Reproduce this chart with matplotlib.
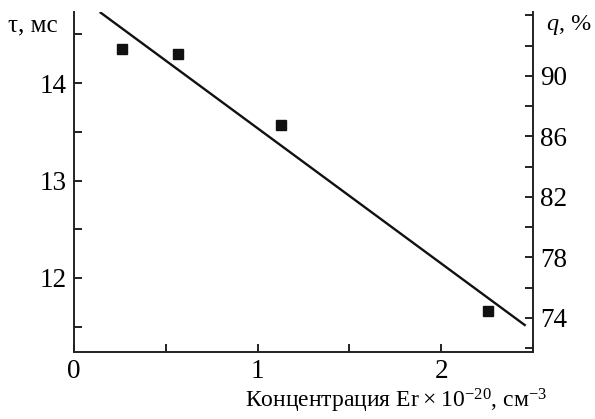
import matplotlib.pyplot as plt
from matplotlib.ticker import MultipleLocator

plt.rcParams['font.family'] = ['Liberation Serif', 'DejaVu Serif']
plt.rcParams['mathtext.fontset'] = 'custom'
plt.rcParams['mathtext.rm'] = 'Liberation Serif'
plt.rcParams['mathtext.it'] = 'Liberation Serif:italic'

# измеренные точки
conc = [0.26, 0.565, 1.125, 2.255]
tau = [14.35, 14.30, 13.57, 11.66]

# линейная аппроксимация (концы прямой)
fit_x = [0.14, 2.46]
fit_tau = [14.73, 11.51]

q_ticks = [74, 78, 82, 86, 90]

fig = plt.figure(figsize=(5.95, 4.19), dpi=100)
ax = fig.add_axes([0.1244, 0.1599, 0.7714, 0.8115])
ax2 = ax.twinx()

ax.plot(fit_x, fit_tau, color='#111111', lw=1.7, solid_capstyle='butt')
ax.plot(conc, tau, 's', color='#111111', ms=7)

ax.set_xlim(0, 2.5)
ax.set_ylim(11.24, 14.73)
ax2.set_ylim(71.75, 94.23)

ax.xaxis.set_major_locator(MultipleLocator(1))
ax.xaxis.set_minor_locator(MultipleLocator(0.5))
ax.yaxis.set_major_locator(MultipleLocator(1))
ax.yaxis.set_minor_locator(MultipleLocator(0.5))
ax2.set_yticks(q_ticks)
ax2.yaxis.set_minor_locator(MultipleLocator(2))

for a in (ax, ax2):
    a.spines['top'].set_visible(False)
    for s in a.spines.values():
        s.set_linewidth(1.4)
        s.set_color('#222222')
ax.spines['right'].set_visible(False)
ax2.spines['left'].set_visible(False)
ax2.spines['bottom'].set_visible(False)

ax.tick_params(which='both', direction='in', length=6, width=1.4, labelsize=19.5,
               color='#222222', pad=5)
ax.tick_params(axis='x', which='both', top=False)
ax.tick_params(axis='y', which='both', right=False)
ax2.tick_params(which='both', direction='in', length=6, width=1.4, labelsize=19.5,
                color='#222222', pad=5)

fig.text(0.013, 0.94, 'τ, мс', fontsize=18, ha='left', va='center')
fig.text(0.918, 0.94, r'$q$, %', fontsize=17.5, ha='left', va='center')
fig.text(0.665, 0.043, 'Концентрация Er\u2009×\u200910$^{\u221220}$, см$^{\u22123}$',
         fontsize=17, ha='center', va='center')

fig.savefig('out.png', dpi=100)
